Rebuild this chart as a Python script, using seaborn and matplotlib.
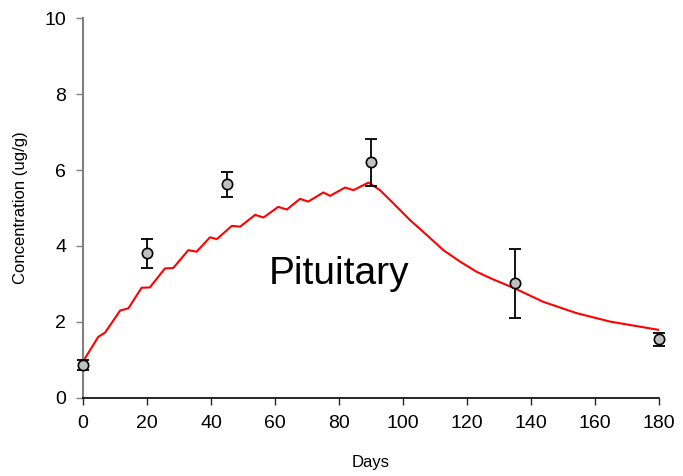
import matplotlib
matplotlib.use('Agg')
import matplotlib.pyplot as plt
import seaborn as sns
import pandas as pd

# measured concentrations
days_obs = [0, 20, 45, 90, 135, 180]
conc_obs = [0.87, 3.81, 5.62, 6.20, 3.02, 1.55]
conc_err = [0.13, 0.38, 0.32, 0.62, 0.91, 0.17]

# model curve
days_model = [0, 4.8, 6.9, 11.6, 14.2, 18.3, 20.9, 25.6, 28.2, 32.9, 35.5, 39.7,
              41.8, 46.5, 49.1, 53.8, 56.4, 61.0, 63.7, 67.8, 70.4, 75.1, 77.2,
              81.9, 84.5, 89.2, 92.8, 97.0, 102.2, 107.4, 112.6, 117.8, 123.0,
              128.2, 135.0, 143.8, 154.3, 164.7, 180.0]
conc_model = [0.96, 1.61, 1.72, 2.30, 2.36, 2.90, 2.91, 3.41, 3.42, 3.89, 3.85, 4.23,
              4.18, 4.53, 4.51, 4.82, 4.75, 5.03, 4.96, 5.24, 5.17, 5.41, 5.32,
              5.54, 5.47, 5.67, 5.47, 5.12, 4.68, 4.29, 3.89, 3.59, 3.32,
              3.12, 2.88, 2.53, 2.23, 2.01, 1.79]

sns.set_style('white')
plt.rcParams['font.family'] = ['Liberation Sans', 'DejaVu Sans']
plt.rcParams['text.color'] = 'black'
plt.rcParams['axes.labelcolor'] = 'black'

df_model = pd.DataFrame({'day': days_model, 'conc': conc_model})
df_obs = pd.DataFrame({'day': days_obs, 'conc': conc_obs, 'err': conc_err})

fig = plt.figure(figsize=(6.83, 4.76), dpi=100)
ax = fig.add_axes([0.1215, 0.164, 0.8435, 0.798])

sns.lineplot(data=df_model, x='day', y='conc', color='red', linewidth=1.5,
             ax=ax, zorder=2)

ax.errorbar(df_obs['day'], df_obs['conc'], yerr=df_obs['err'], fmt='none',
            ecolor='black', elinewidth=1.3, capsize=4, capthick=1.3,
            zorder=3, clip_on=False)
sns.scatterplot(data=df_obs, x='day', y='conc', color='#c0c0c0', edgecolor='black',
                linewidth=1.2, s=55, ax=ax, zorder=4, clip_on=False)

ax.text(80, 3.25, 'Pituitary', fontsize=28, ha='center', va='center', color='black')

ax.set_xlim(0, 180)
ax.set_ylim(0, 10)
ax.set_xticks(range(0, 181, 20))
ax.set_yticks(range(0, 11, 2))
ax.set_xlabel('Days', fontsize=12, labelpad=17)
ax.set_ylabel('Concentration (ug/g)', fontsize=12, labelpad=12)
ax.tick_params(axis='both', labelsize=14, direction='out', length=5, width=1,
               bottom=True, left=True, pad=7, labelcolor='black')
ax.tick_params(axis='y', colors='#808080', labelcolor='black')

sns.despine(ax=ax)
ax.spines['left'].set_color('#808080')
ax.spines['bottom'].set_color('black')
ax.spines['left'].set_linewidth(1.5)
ax.spines['bottom'].set_linewidth(1.2)

fig.savefig('out.png', dpi=100)
